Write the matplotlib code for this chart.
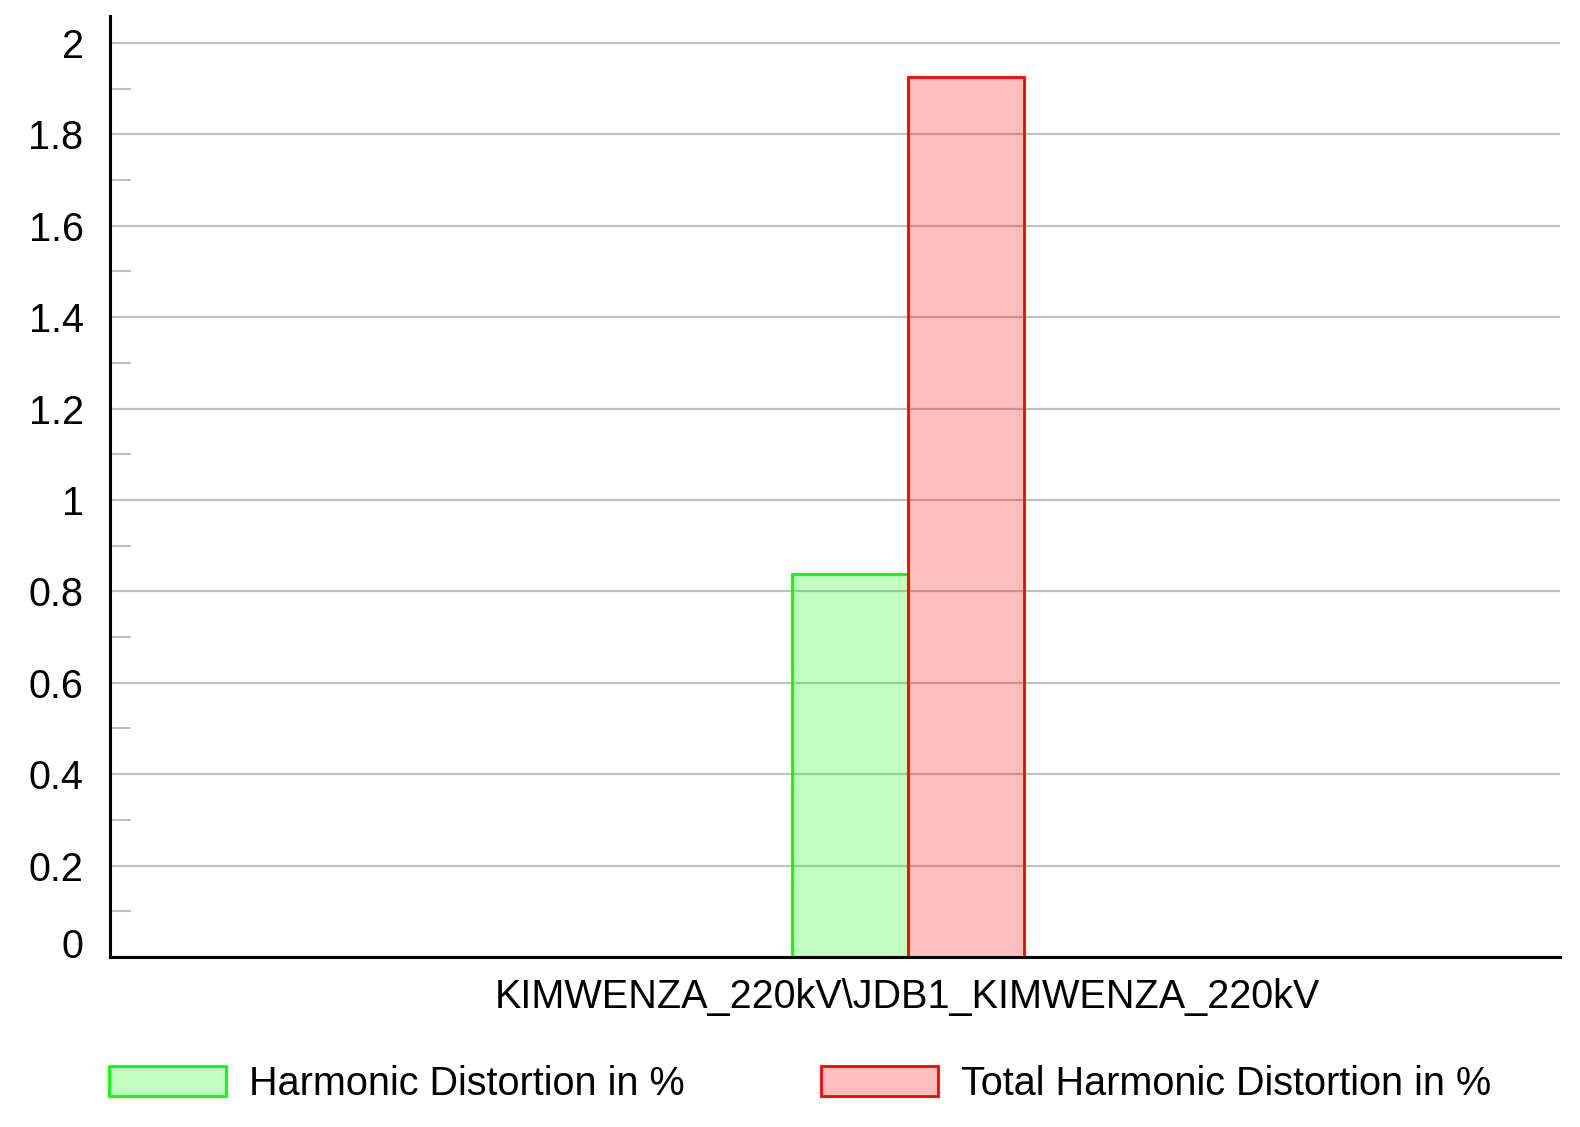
import matplotlib
matplotlib.use("Agg")
import matplotlib.pyplot as plt
import matplotlib.transforms as mtransforms
from matplotlib.patches import Patch
import numpy as np

# ---------------------- Data ---------------------- #

categories = ["KIMWENZA_220kV\\JDB1_KIMWENZA_220kV"]
series_names = ["Harmonic Distortion in %", "Total Harmonic Distortion in %"]
harmonic_distortion = [0.837]
total_harmonic_distortion = [1.925]
y_ticks = [0, 0.2, 0.4, 0.6, 0.8, 1, 1.2, 1.4, 1.6, 1.8, 2]
y_tick_labels = ["0", "0.2", "0.4", "0.6", "0.8", "1", "1.2", "1.4", "1.6", "1.8", "2"]
y_minor_ticks = [0.1, 0.3, 0.5, 0.7, 0.9, 1.1, 1.3, 1.5, 1.7, 1.9]

# ---------------------- Figure ---------------------- #

plt.rcParams['font.family'] = ['Liberation Sans', 'DejaVu Sans']

W, H = 1580, 1127
FS = 28.5
fig = plt.figure(figsize=(W / 100, H / 100), dpi=100)
ax = fig.add_axes([110 / W, (H - 957) / H, (1560 - 110) / W, (957 - 16) / H])

x = np.arange(len(categories))
bar_w = 0.4
ax.bar(x - bar_w / 2, harmonic_distortion, width=bar_w,
       facecolor=(0, 1, 0, 0.25), edgecolor="#00ff00", linewidth=2.0, zorder=3)
ax.bar(x + bar_w / 2, total_harmonic_distortion, width=bar_w,
       facecolor=(1, 0, 0, 0.25), edgecolor="#ff0000", linewidth=2.0, zorder=3)

ax.set_xlim(-2.75, 2.25)
ax.set_ylim(0, 2.059)

ax.set_xticks(x)
ax.set_xticklabels(categories, fontsize=FS)
ax.tick_params(axis='x', length=0, pad=15)

ax.set_yticks(y_ticks)
ax.set_yticklabels(y_tick_labels, fontsize=FS)
ax.set_yticks(y_minor_ticks, minor=True)
ax.tick_params(axis='y', which='major', length=0, pad=19)
ax.tick_params(axis='y', which='minor', direction='in', length=15,
               width=1.5, color='#c0c0c0')

# the zero label sits a bit above the axis line
zero_lbl = ax.yaxis.get_major_ticks()[0].label1
zero_lbl.set_transform(zero_lbl.get_transform() +
                       mtransforms.ScaledTranslation(0, 0.14, fig.dpi_scale_trans))

ax.grid(axis='y', which='major', color='#c0c0c0', linewidth=1.6, zorder=0)
ax.set_axisbelow(True)

for side in ['top', 'right']:
    ax.spines[side].set_visible(False)
for side in ['left', 'bottom']:
    ax.spines[side].set_linewidth(2.2)
    ax.spines[side].set_color('black')
    ax.spines[side].set_zorder(4)

handles = [
    Patch(facecolor=(0, 1, 0, 0.25), edgecolor="#00ff00", linewidth=2.0),
    Patch(facecolor=(1, 0, 0, 0.25), edgecolor="#ff0000", linewidth=2.0),
]
fig.legend(handles, series_names, loc='center left',
           bbox_to_anchor=(109 / W, 43 / H), ncol=2, frameon=False,
           fontsize=FS, handlelength=2.95, handleheight=0.8,
           handletextpad=0.58, columnspacing=3.45, borderpad=0, borderaxespad=0)

fig.savefig("out.png", dpi=100)
